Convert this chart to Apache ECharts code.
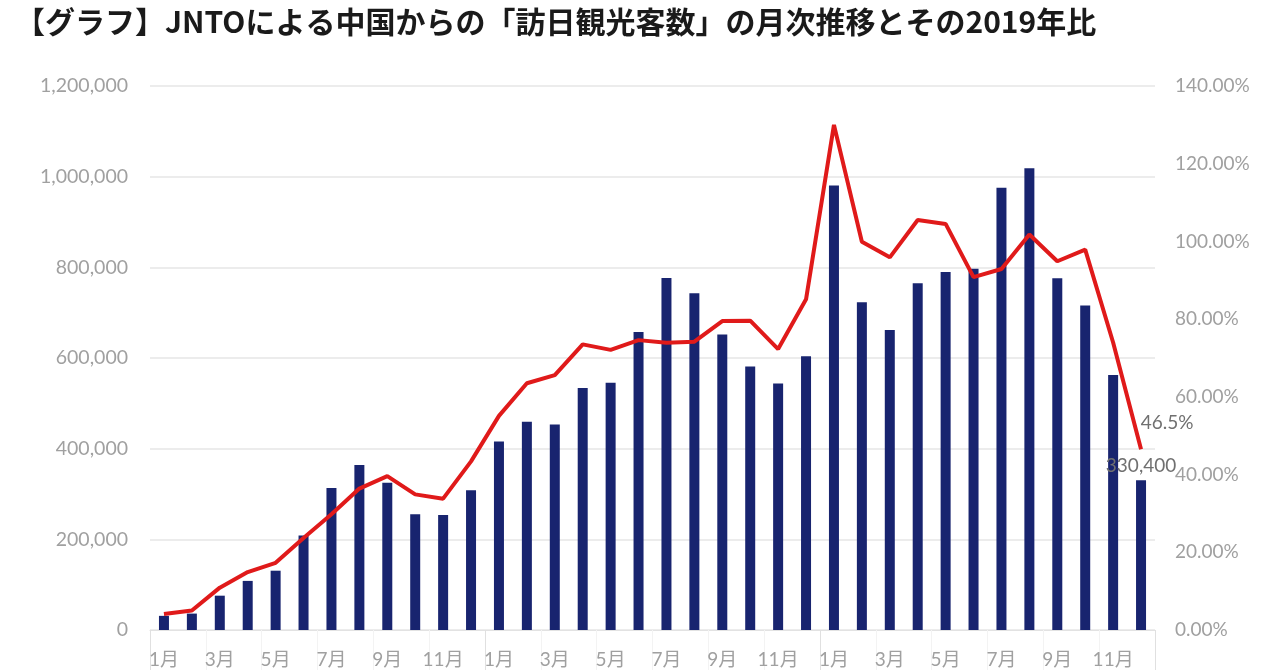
<!DOCTYPE html>
<html>
<head>
<meta charset="utf-8">
<script src="https://cdn.jsdelivr.net/npm/echarts@6/dist/echarts.min.js"></script>
<style>
html, body { margin: 0; padding: 0; background: #fff; }
#chart { width: 1280px; height: 670px; }
</style>
</head>
<body>
<div id="chart"></div>
<script>
var titleText = '【グラフ】JNTOによる中国からの「訪日観光客数」の月次推移とその2019年比';
var years = ['2023年', '2024年', '2025年'];
var monthNames = ['1月', '2月', '3月', '4月', '5月', '6月', '7月', '8月', '9月', '10月', '11月', '12月'];
// 訪日観光客数（人）
var visitors2023 = [31200, 36200, 75700, 108300, 130800, 208500, 313300, 364100, 324600, 255300, 253600, 308500];
var visitors2024 = [415900, 459400, 453300, 533600, 545400, 657200, 776500, 742800, 651600, 581500, 544000, 604000];
var visitors2025 = [980500, 723100, 661700, 765100, 789900, 796900, 975400, 1018600, 775800, 715700, 562600, 330400];
// 2019年比（%）
var ratio2023 = [4.1, 5.0, 10.9, 14.9, 17.3, 23.7, 29.8, 36.4, 39.6, 34.9, 33.8, 43.4];
var ratio2024 = [55.1, 63.5, 65.6, 73.5, 72.1, 74.6, 73.9, 74.2, 79.5, 79.6, 72.3, 85.1];
var ratio2025 = [130.0, 99.9, 95.9, 105.5, 104.5, 90.8, 92.9, 101.8, 94.9, 97.9, 74.0, 46.5];

var axisFont = 'Lato, "Noto Sans CJK JP", sans-serif';
var months = monthNames.concat(monthNames, monthNames);
var visitors = visitors2023.concat(visitors2024, visitors2025);
var ratio = ratio2023.concat(ratio2024, ratio2025);
var last = visitors.length - 1;

var barData = [];
var lineData = [];
for (var i = 0; i < visitors.length; i++) {
	barData.push({
		value: visitors[i],
		label: { show: i == last }
	});
	lineData.push({
		value: ratio[i],
		label: { show: i == last }
	});
}

var chart = echarts.init(document.getElementById('chart'));
chart.setOption({
	animation: false,
	title: {
		text: titleText,
		left: 10,
		top: 2,
		textStyle: {
			fontFamily: '"Noto Sans CJK JP", sans-serif',
			fontWeight: 'bold',
			fontSize: 30,
			color: '#1a1a1a'
		}
	},
	grid: {
		left: 150,
		right: 125,
		top: 86,
		bottom: 40
	},
	xAxis: [{
		type: 'category',
		data: months,
		axisLine: { lineStyle: { color: '#e2e2e2', width: 1 } },
		axisTick: { show: true, length: 40, lineStyle: { color: '#f3f3f3' } },
		axisLabel: {
			interval: 1,
			color: '#a0a0a0',
			fontSize: 19,
			fontFamily: axisFont,
			margin: 20
		}
	}, {
		type: 'category',
		data: years,
		position: 'bottom',
		axisLine: { show: false },
		axisTick: { show: true, length: 40, lineStyle: { color: '#e0e0e0' } },
		axisLabel: { show: false }
	}],
	yAxis: [{
		type: 'value',
		min: 0,
		max: 1200000,
		interval: 200000,
		axisLine: { show: false },
		axisTick: { show: false },
		splitLine: { lineStyle: { color: '#e6e6e6', width: 1.5 } },
		axisLabel: {
			color: '#a0a0a0',
			fontSize: 19.5,
			fontFamily: axisFont,
			margin: 22,
			formatter: function(v) {
				return v.toLocaleString('en-US');
			}
		}
	}, {
		type: 'value',
		min: 0,
		max: 140,
		interval: 20,
		position: 'right',
		axisLine: { show: false },
		axisTick: { show: false },
		splitLine: { show: false },
		axisLabel: {
			color: '#a0a0a0',
			fontSize: 19,
			fontFamily: axisFont,
			margin: 20,
			formatter: function(v) {
				return v.toFixed(2) + '%';
			}
		}
	}],
	series: [{
		name: '訪日観光客数',
		type: 'bar',
		data: barData,
		barWidth: 10,
		itemStyle: { color: '#18246f' },
		label: {
			position: 'top',
			color: '#707070',
			fontSize: 19,
			fontFamily: axisFont,
			formatter: function(p) {
				return p.value.toLocaleString('en-US');
			}
		}
	}, {
		name: '2019年比',
		type: 'line',
		yAxisIndex: 1,
		data: lineData,
		showSymbol: true,
		symbol: 'circle',
		symbolSize: 0,
		lineStyle: { color: '#e01a1a', width: 4 },
		label: {
			position: 'top',
			offset: [26, -12],
			color: '#707070',
			fontSize: 19,
			fontFamily: axisFont,
			formatter: function(p) {
				return p.value + '%';
			}
		}
	}]
});
</script>
</body>
</html>
